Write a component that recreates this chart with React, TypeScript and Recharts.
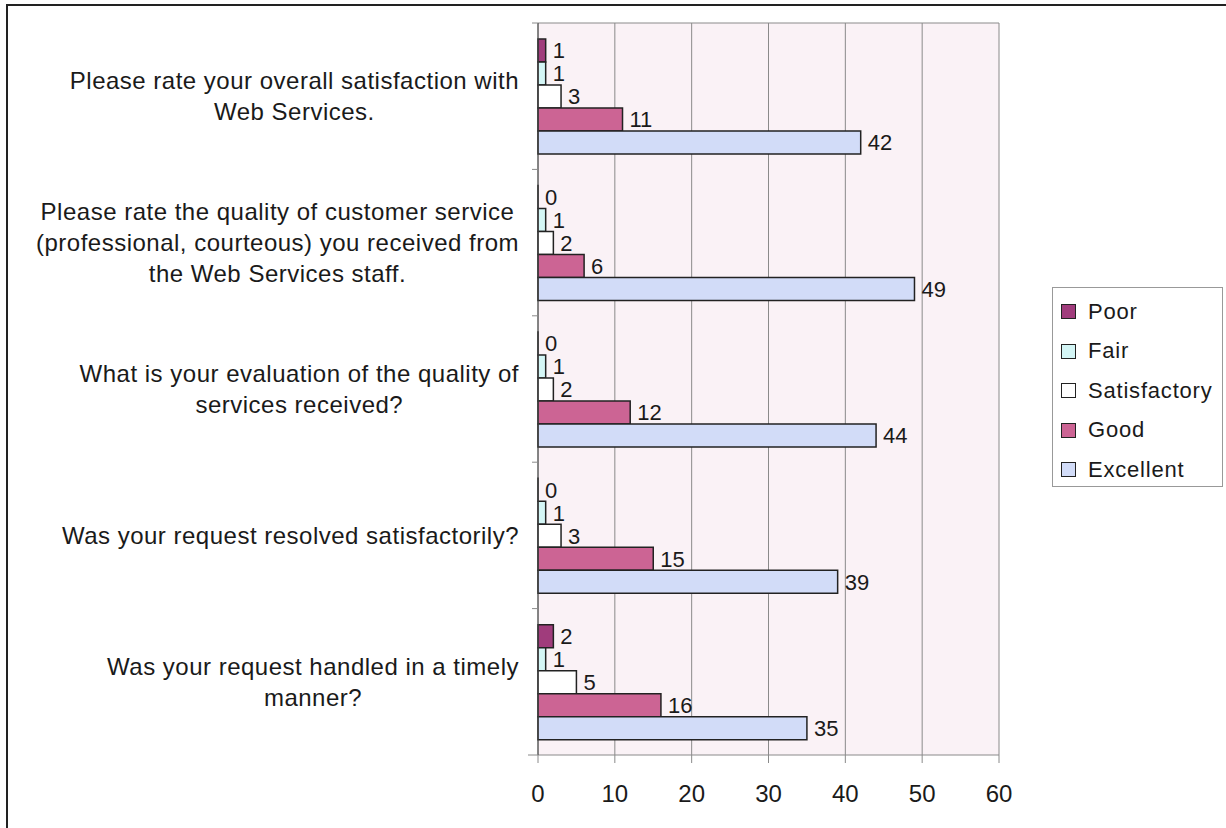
import { Bar, BarChart, CartesianGrid, LabelList, Legend, XAxis, YAxis } from "recharts";

const questions = [
  "Please rate your overall satisfaction with\nWeb Services.",
  "Please rate the quality of customer service\n(professional, courteous) you received from\nthe Web Services staff.",
  "What is your evaluation of the quality of\nservices received?",
  "Was your request resolved satisfactorily?",
  "Was your request handled in a timely\nmanner?",
];

const poor = [1, 0, 0, 0, 2];
const fair = [1, 1, 1, 1, 1];
const satisfactory = [3, 2, 2, 3, 5];
const good = [11, 6, 12, 15, 16];
const excellent = [42, 49, 44, 39, 35];

const xTicks = [0, 10, 20, 30, 40, 50, 60];

const series = [
  { key: "poor", name: "Poor", color: "#a03c7c" },
  { key: "fair", name: "Fair", color: "#d4f6f6" },
  { key: "satisfactory", name: "Satisfactory", color: "#ffffff" },
  { key: "good", name: "Good", color: "#cc6494" },
  { key: "excellent", name: "Excellent", color: "#d2dcf8" },
];

const data = questions.map((q, i) => ({
  question: q,
  poor: poor[i],
  fair: fair[i],
  satisfactory: satisfactory[i],
  good: good[i],
  excellent: excellent[i],
}));

const FONT = '"Liberation Sans", Arial, sans-serif';
const LABEL_SIZE = 24;
const LABEL_SPACING = 0.5;

let measureCtx: CanvasRenderingContext2D | null = null;
function textWidth(s: string) {
  if (!measureCtx) {
    measureCtx = document.createElement("canvas").getContext("2d");
  }
  if (!measureCtx) return s.length * LABEL_SIZE * 0.5;
  measureCtx.font = `${LABEL_SIZE}px "Liberation Sans"`;
  return measureCtx.measureText(s).width + s.length * LABEL_SPACING;
}

// category labels: lines centred on each other, block right-aligned,
// little tick marks on the band boundaries like Excel draws them
function QuestionTick(props: any) {
  const { x, y, payload, index, visibleTicksCount } = props;
  const lines = String(payload.value).split("\n");
  const lh = 31;
  const start = y - ((lines.length - 1) * lh) / 2;
  const widest = Math.max(...lines.map(textWidth));
  const cx = x - widest / 2;
  const axisX = x + 19;
  const half = payload.offset || 0;
  return (
    <g>
      <line x1={axisX - 6} x2={axisX} y1={y - half} y2={y - half} stroke="#8a8a8a" />
      {index === visibleTicksCount - 1 && (
        <line x1={axisX - 10} x2={axisX} y1={y + half} y2={y + half} stroke="#8a8a8a" />
      )}
      <text
        x={cx}
        y={start}
        textAnchor="middle"
        fontSize={LABEL_SIZE}
        letterSpacing={LABEL_SPACING}
        fill="#1a1a1a"
        fontFamily={FONT}
      >
        {lines.map((l, i) => (
          <tspan key={i} x={cx} y={start + i * lh} dy="0.35em">
            {l}
          </tspan>
        ))}
      </text>
    </g>
  );
}

function LegendBox() {
  return (
    <div
      style={{
        width: 169,
        height: 198,
        border: "1px solid #999",
        background: "#fff",
        boxSizing: "content-box",
        fontFamily: FONT,
        fontSize: 22,
        letterSpacing: 0.8,
        color: "#1a1a1a",
      }}
    >
      <div style={{ height: 4 }} />
      {series.map((s) => (
        <div key={s.key} style={{ height: 39.5, display: "flex", alignItems: "center" }}>
          <span
            style={{
              display: "inline-block",
              width: 13,
              height: 13,
              marginLeft: 8,
              marginRight: 12,
              background: s.color,
              border: "1px solid #222",
            }}
          />
          <span>{s.name}</span>
        </div>
      ))}
    </div>
  );
}

export default function App() {
  return (
    <div
      style={{
        position: "absolute",
        left: 0,
        top: 0,
        width: 1226,
        height: 828,
        overflow: "hidden",
        background: "#fff",
      }}
    >
      <div
        style={{
          position: "absolute",
          left: 6,
          top: 4,
          width: 1260,
          height: 860,
          border: "2px solid #222",
        }}
      />
      <div style={{ position: "absolute", left: 0, top: 0 }}>
        <BarChart
          width={1226}
          height={828}
          data={data}
          layout="vertical"
          margin={{ top: 23, right: 227, bottom: 5, left: 10 }}
          barCategoryGap="11%"
          barGap={0}
        >
          <CartesianGrid
            fill="#faf2f6"
            stroke="#8a8a8a"
            vertical
            horizontal
            horizontalCoordinatesGenerator={({ offset }: any) => [offset.top]}
          />
          <XAxis
            type="number"
            domain={[0, 60]}
            ticks={xTicks}
            height={68}
            tickSize={8}
            tickMargin={22}
            axisLine={{ stroke: "#8a8a8a" }}
            tickLine={{ stroke: "#8a8a8a" }}
            tick={{ fontSize: 24, fill: "#1a1a1a", fontFamily: FONT }}
          />
          <YAxis
            type="category"
            dataKey="question"
            width={528}
            tickSize={0}
            tickMargin={19}
            axisLine={{ stroke: "#444" }}
            tickLine={false}
            tick={<QuestionTick />}
            interval={0}
          />
          <Legend
            layout="vertical"
            align="center"
            verticalAlign="middle"
            content={<LegendBox />}
            wrapperStyle={{ left: 1052, top: 287, width: 171, right: "auto" }}
          />
          {series.map((s) => (
            <Bar
              key={s.key}
              dataKey={s.key}
              name={s.name}
              fill={s.color}
              stroke="#222"
              strokeWidth={1.5}
              minPointSize={0.01}
              isAnimationActive={false}
            >
              <LabelList
                dataKey={s.key}
                position="right"
                offset={7}
                fontSize={22}
                fill="#1a1a1a"
                fontFamily={FONT}
              />
            </Bar>
          ))}
        </BarChart>
      </div>
    </div>
  );
}
